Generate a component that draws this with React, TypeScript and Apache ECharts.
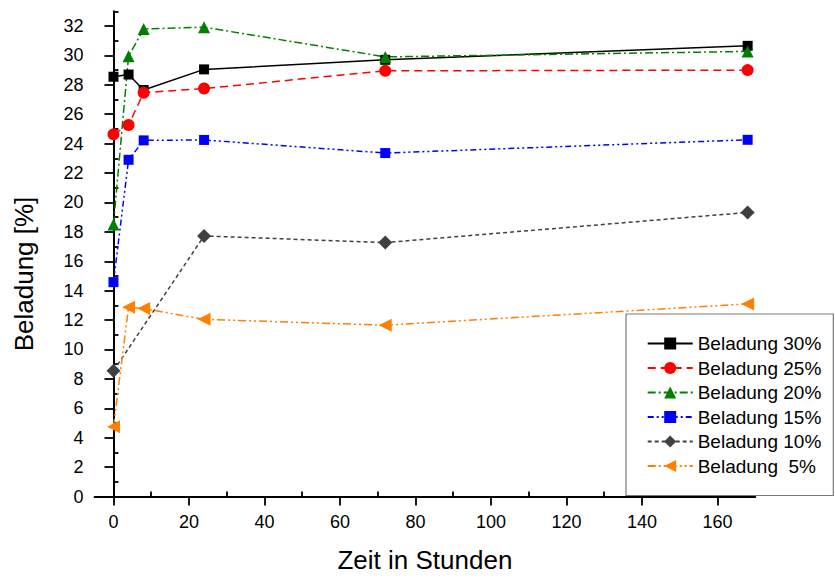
import React, { useEffect, useRef } from "react";
import * as echarts from "echarts";

const hours = [0, 4, 8, 24, 72, 168];
const hours10 = [0, 24, 72, 168];
const beladung30 = [28.55, 28.7, 27.65, 29.05, 29.7, 30.65];
const beladung25 = [24.63, 25.27, 27.46, 27.75, 28.95, 29.0];
const beladung20 = [18.5, 29.95, 31.8, 31.92, 29.9, 30.27];
const beladung15 = [14.58, 22.9, 24.22, 24.25, 23.36, 24.26];
const beladung10 = [8.55, 17.72, 17.27, 19.32];
const beladung5 = [4.75, 12.88, 12.78, 12.05, 11.65, 13.1];

const seriesNames = [
  "Beladung 30%",
  "Beladung 25%",
  "Beladung 20%",
  "Beladung 15%",
  "Beladung 10%",
  "Beladung  5%",
];

const xTitle = "Zeit in Stunden";
const yTitle = "Beladung [%]";

const xMajorTicks = [0, 20, 40, 60, 80, 100, 120, 140, 160];
const xMinorTicks = [10, 30, 50, 70, 90, 110, 130, 150, 170];
const yMajorTicks = [0, 2, 4, 6, 8, 10, 12, 14, 16, 18, 20, 22, 24, 26, 28, 30, 32];
const yMinorTicks = [1, 3, 5, 7, 9, 11, 13, 15, 17, 19, 21, 23, 25, 27, 29, 31, 33];

const FONT = "'Liberation Sans', Arial, sans-serif";

function pairs(xs: number[], ys: number[]) {
  return xs.map((x, i) => [x, ys[i]]);
}

export default function App() {
  const ref = useRef<HTMLDivElement>(null);
  useEffect(() => {
    if (!ref.current) return;
    const chart = echarts.init(ref.current, undefined, { renderer: "svg" });
    const mkSeries = (
      name: string,
      data: number[][],
      color: string,
      dash: any,
      symbol: string,
      symbolSize: number,
      symbolRotate = 0
    ) => ({
      name,
      type: "line",
      data,
      xAxisIndex: 0,
      yAxisIndex: 0,
      symbol,
      symbolSize,
      symbolRotate,
      showAllSymbol: true,
      color,
      itemStyle: { color, opacity: 1 },
      lineStyle: { color, width: 1.5, type: dash },
      emphasis: { disabled: true },
    });
    const axisCommon = {
      type: "value",
      axisLine: { show: true, lineStyle: { color: "#000", width: 2 } },
      splitLine: { show: false },
    };
    chart.setOption({
      animation: false,
      backgroundColor: "#fff",
      grid: { left: 94.6, right: 79.8, top: 11.3, bottom: 78, containLabel: false },
      graphic: [
        {
          type: "text",
          x: 24,
          y: 274,
          rotation: Math.PI / 2,
          style: {
            text: yTitle,
            fontFamily: FONT,
            fontSize: 26,
            fill: "#000",
            align: "center",
            verticalAlign: "middle",
          },
        },
      ],
      xAxis: [
        {
          ...axisCommon,
          min: -5,
          max: 170,
          name: xTitle,
          nameLocation: "middle",
          nameGap: 50.5,
          nameTextStyle: { fontFamily: FONT, fontSize: 26, color: "#000" },
          axisTick: {
            show: true,
            inside: false,
            length: 9,
            customValues: xMajorTicks,
            lineStyle: { color: "#000", width: 1.8 },
          },
          axisLabel: {
            customValues: xMajorTicks,
            fontFamily: FONT,
            fontSize: 18,
            color: "#000",
            margin: 16,
          },
        },
        {
          ...axisCommon,
          min: -5,
          max: 170,
          axisLine: { show: false },
          axisTick: {
            show: true,
            length: 5,
            customValues: xMinorTicks,
            lineStyle: { color: "#000", width: 1.8 },
          },
          axisLabel: { show: false },
        },
      ],
      yAxis: [
        {
          ...axisCommon,
          min: 0,
          max: 33,
          axisTick: {
            show: true,
            length: 9,
            customValues: yMajorTicks,
            lineStyle: { color: "#000", width: 1.8 },
          },
          axisLabel: {
            customValues: yMajorTicks,
            fontFamily: FONT,
            fontSize: 18,
            color: "#000",
            margin: 11,
          },
        },
        {
          ...axisCommon,
          min: 0,
          max: 33,
          axisLine: { show: false },
          axisTick: {
            show: true,
            length: 5,
            customValues: yMinorTicks,
            lineStyle: { color: "#000", width: 1.8 },
          },
          axisLabel: { show: false },
        },
      ],
      legend: {
        orient: "vertical",
        left: 626,
        top: 314,
        padding: [20, 12, 20, 20.7],
        itemGap: 5.5,
        itemWidth: 45,
        itemHeight: 15,
        backgroundColor: "#fff",
        borderColor: "#7a7a7a",
        borderWidth: 1.2,
        textStyle: { fontFamily: FONT, fontSize: 19, color: "#000" },
        data: seriesNames,
      },
      series: [
        mkSeries(seriesNames[0], pairs(hours, beladung30), "#000000", "solid", "rect", 10),
        mkSeries(seriesNames[1], pairs(hours, beladung25), "#ff0000", [8, 5], "circle", 12),
        mkSeries(seriesNames[2], pairs(hours, beladung20), "#008000", [8, 3, 2, 3], "triangle", 12),
        mkSeries(seriesNames[3], pairs(hours, beladung15), "#0000ff", [6, 3, 2, 3, 2, 3], "rect", 10),
        mkSeries(seriesNames[4], pairs(hours10, beladung10), "#404040", [4, 3], "diamond", 14),
        mkSeries(seriesNames[5], pairs(hours, beladung5), "#ff8000", [8, 3, 2, 3, 2, 3], "triangle", 13, 90),
      ],
    });
    return () => chart.dispose();
  }, []);
  return (
    <div
      ref={ref}
      style={{ position: "absolute", left: 0, top: 0, width: 835, height: 578 }}
    />
  );
}
